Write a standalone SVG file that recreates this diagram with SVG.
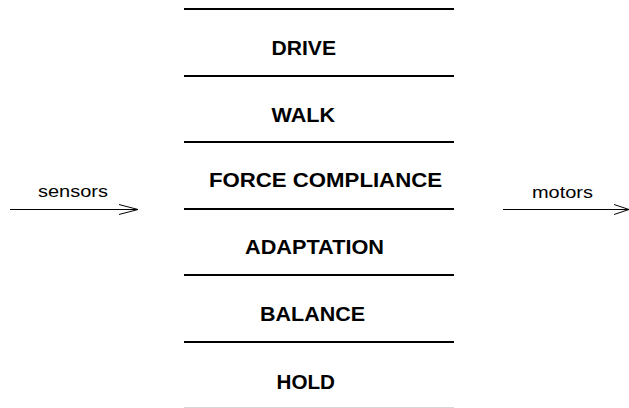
<svg xmlns="http://www.w3.org/2000/svg" width="629" height="408" viewBox="0 0 629 408">
<style>
.layer line{stroke:#000;stroke-width:2}
.lbl{font-family:"Liberation Sans",Arial,sans-serif;font-weight:bold;font-size:19.5px;fill:#000}
.io{font-family:"Liberation Sans",Arial,sans-serif;font-size:16px;fill:#000}
.conn line,.conn polyline{stroke:#000;stroke-width:1;fill:none}
</style>
<rect width="629" height="408" fill="#fff"/>
<g class="layer" id="separators">
<line x1="184" y1="9" x2="454" y2="9"/>
<line x1="184" y1="76" x2="454" y2="76"/>
<line x1="184" y1="142" x2="454" y2="142"/>
<line x1="184" y1="209" x2="454" y2="209"/>
<line x1="184" y1="275" x2="454" y2="275"/>
<line x1="184" y1="342" x2="454" y2="342"/>
<line x1="184" y1="407.5" x2="454" y2="407.5" style="stroke:#d8d8d8;stroke-width:1"/>
</g>
<g id="drive"><text class="lbl" x="271.5" y="55" textLength="64.5" lengthAdjust="spacingAndGlyphs">DRIVE</text></g>
<g id="walk"><text class="lbl" x="271.5" y="122" textLength="63.5" lengthAdjust="spacingAndGlyphs">WALK</text></g>
<g id="force-compliance"><text class="lbl" x="209" y="187" textLength="233" lengthAdjust="spacingAndGlyphs">FORCE COMPLIANCE</text></g>
<g id="adaptation"><text class="lbl" x="245" y="253.5" textLength="139" lengthAdjust="spacingAndGlyphs">ADAPTATION</text></g>
<g id="balance"><text class="lbl" x="260" y="321" textLength="105" lengthAdjust="spacingAndGlyphs">BALANCE</text></g>
<g id="hold"><text class="lbl" x="276.5" y="388.5" textLength="58.5" lengthAdjust="spacingAndGlyphs">HOLD</text></g>
<g id="sensors"><text class="io" x="38" y="197" textLength="70" lengthAdjust="spacingAndGlyphs">sensors</text></g>
<g id="motors"><text class="io" x="532" y="197.5" textLength="61" lengthAdjust="spacingAndGlyphs">motors</text></g>
<g class="conn" id="connectors">
<line x1="10" y1="209.5" x2="138" y2="209.5"/>
<polyline points="119,204.5 138,209.5 119,214.5"/>
<line x1="503" y1="209.5" x2="629" y2="209.5"/>
<polyline points="614,204.5 629,209.5 614,214.5"/>
</g>
</svg>
